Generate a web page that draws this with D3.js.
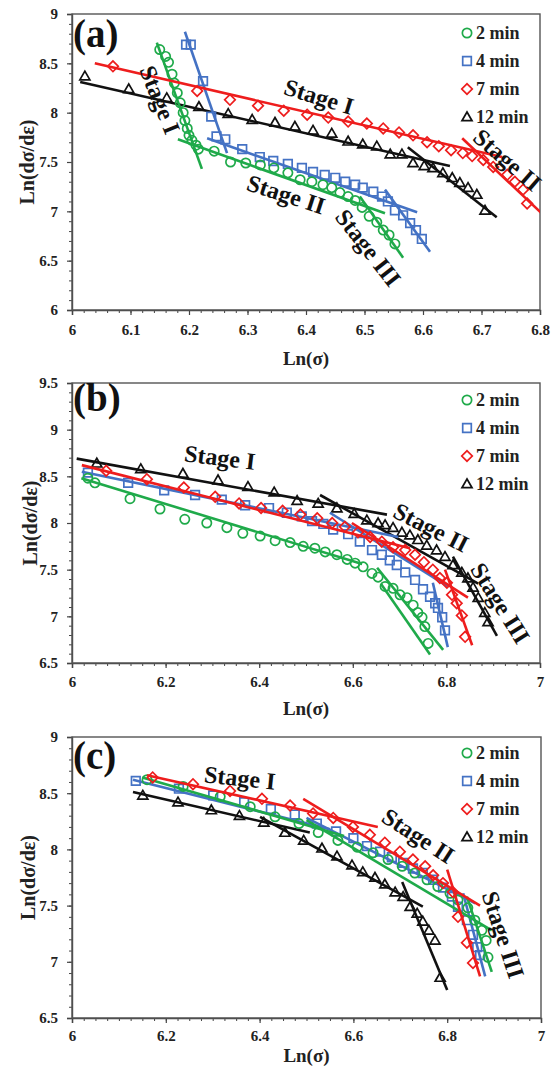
<!DOCTYPE html>
<html><head><meta charset="utf-8">
<script src="https://cdn.jsdelivr.net/npm/d3@7"></script>
<style>body{margin:0;background:#fff}</style>
</head><body>
<svg id="chart" width="557" height="1075"></svg>
<script>
// ---------- categories ----------
const seriesNames = ["2 min", "4 min", "7 min", "12 min"];
const seriesColors = ["#1faa4a", "#4472c4", "#ee1d1d", "#111111"];
const seriesShapes = ["circle", "square", "diamond", "triangle"];

// ---------- tick labels ----------
const xTicksA = [6, 6.1, 6.2, 6.3, 6.4, 6.5, 6.6, 6.7, 6.8];
const yTicksA = [6, 6.5, 7, 7.5, 8, 8.5, 9];
const xTicksB = [6, 6.2, 6.4, 6.6, 6.8, 7];
const yTicksB = [6.5, 7, 7.5, 8, 8.5, 9, 9.5];
const xTicksC = [6, 6.2, 6.4, 6.6, 6.8, 7];
const yTicksC = [6.5, 7, 7.5, 8, 8.5, 9];

// ---------- panel (a) data [Ln(sigma), Ln(dsigma/deps)] ----------
const a2min = [[6.150,8.64],[6.160,8.57],[6.165,8.51],[6.171,8.39],[6.175,8.30],[6.180,8.20],[6.185,8.10],[6.190,8.00],[6.193,7.92],[6.197,7.84],[6.200,7.77],[6.205,7.72],[6.212,7.67],[6.216,7.63],[6.243,7.61],[6.271,7.50],[6.297,7.49],[6.322,7.47],[6.345,7.44],[6.369,7.39],[6.390,7.32],[6.410,7.30],[6.429,7.27],[6.444,7.24],[6.458,7.19],[6.472,7.15],[6.484,7.11],[6.496,7.04],[6.508,6.95],[6.521,6.89],[6.532,6.81],[6.542,6.76],[6.552,6.67]];
const a4min = [[6.195,8.69],[6.203,8.69],[6.224,8.32],[6.238,7.96],[6.247,7.76],[6.262,7.73],[6.291,7.63],[6.321,7.55],[6.344,7.51],[6.369,7.48],[6.393,7.44],[6.412,7.40],[6.432,7.37],[6.450,7.34],[6.467,7.30],[6.484,7.27],[6.497,7.24],[6.515,7.20],[6.530,7.15],[6.540,7.10],[6.552,7.01],[6.566,6.96],[6.578,6.88],[6.588,6.81],[6.598,6.72]];
const a7min = [[6.070,8.47],[6.214,8.22],[6.270,8.13],[6.318,8.07],[6.362,8.02],[6.402,7.98],[6.438,7.95],[6.472,7.91],[6.504,7.89],[6.532,7.84],[6.559,7.80],[6.583,7.77],[6.607,7.70],[6.627,7.66],[6.648,7.62],[6.668,7.59],[6.684,7.56],[6.703,7.52],[6.720,7.45],[6.744,7.37],[6.757,7.30],[6.771,7.22],[6.778,7.08]];
const a12min = [[6.022,8.37],[6.097,8.24],[6.162,8.15],[6.217,8.06],[6.267,7.99],[6.308,7.93],[6.347,7.90],[6.381,7.86],[6.412,7.82],[6.444,7.79],[6.472,7.71],[6.497,7.68],[6.521,7.66],[6.544,7.58],[6.564,7.58],[6.583,7.49],[6.602,7.46],[6.617,7.44],[6.634,7.39],[6.650,7.34],[6.663,7.29],[6.677,7.24],[6.692,7.17],[6.706,7.01]];
const aFit2min = [[[6.145,8.71],[6.222,7.43]], [[6.181,7.73],[6.535,6.98]], [[6.492,7.15],[6.566,6.53]]];
const aFit4min = [[[6.193,8.82],[6.265,7.59]], [[6.231,7.74],[6.590,6.99]], [[6.535,7.22],[6.612,6.59]]];
const aFit7min = [[[6.039,8.50],[6.735,7.55]], [[6.667,7.74],[6.810,6.94]]];
const aFit12min = [[[6.014,8.31],[6.646,7.46]], [[6.574,7.65],[6.726,6.94]]];

// ---------- panel (b) data ----------
const b2min = [[6.034,8.48],[6.049,8.43],[6.124,8.26],[6.188,8.15],[6.241,8.04],[6.288,8.00],[6.331,7.95],[6.365,7.89],[6.402,7.86],[6.434,7.81],[6.466,7.79],[6.494,7.75],[6.519,7.73],[6.541,7.69],[6.566,7.66],[6.588,7.61],[6.605,7.57],[6.622,7.53],[6.641,7.46],[6.654,7.42],[6.669,7.32],[6.686,7.30],[6.701,7.23],[6.716,7.20],[6.729,7.12],[6.739,7.04],[6.748,6.99],[6.754,6.89],[6.761,6.71]];
const b4min = [[6.034,8.54],[6.120,8.43],[6.197,8.35],[6.263,8.30],[6.320,8.25],[6.370,8.19],[6.421,8.16],[6.459,8.11],[6.491,8.07],[6.513,8.02],[6.537,7.99],[6.558,7.93],[6.590,7.88],[6.615,7.80],[6.641,7.71],[6.662,7.66],[6.679,7.60],[6.694,7.55],[6.712,7.47],[6.733,7.39],[6.750,7.29],[6.765,7.21],[6.776,7.14],[6.782,7.09],[6.791,6.99],[6.797,6.85]];
const b7min = [[6.073,8.56],[6.160,8.47],[6.239,8.38],[6.306,8.28],[6.357,8.21],[6.404,8.16],[6.450,8.13],[6.488,8.09],[6.524,8.05],[6.556,8.00],[6.583,7.96],[6.611,7.90],[6.637,7.85],[6.662,7.80],[6.686,7.74],[6.712,7.71],[6.733,7.66],[6.752,7.58],[6.771,7.50],[6.786,7.41],[6.801,7.36],[6.812,7.23],[6.822,7.14],[6.833,7.01],[6.840,6.78]];
const b12min = [[6.053,8.64],[6.147,8.58],[6.237,8.53],[6.312,8.46],[6.376,8.39],[6.432,8.33],[6.481,8.24],[6.526,8.21],[6.566,8.16],[6.603,8.10],[6.630,8.03],[6.654,8.00],[6.669,7.98],[6.686,7.95],[6.705,7.90],[6.722,7.87],[6.739,7.82],[6.758,7.76],[6.779,7.71],[6.797,7.64],[6.814,7.55],[6.833,7.47],[6.846,7.41],[6.857,7.31],[6.868,7.20],[6.882,7.04],[6.889,6.94]];
const bFit2min = [[[6.020,8.48],[6.620,7.56]], [[6.652,7.52],[6.793,6.64]], [[6.660,7.35],[6.765,6.59]]];
const bFit4min = [[[6.021,8.55],[6.697,7.85]], [[6.551,8.11],[6.803,7.32]], [[6.771,7.36],[6.803,6.67]]];
const bFit7min = [[[6.021,8.62],[6.722,7.73]], [[6.598,8.00],[6.846,7.20]], [[6.797,7.50],[6.855,6.69]]];
const bFit12min = [[[6.010,8.69],[6.673,8.09]], [[6.530,8.30],[6.868,7.35]], [[6.814,7.64],[6.908,6.79]]];

// ---------- panel (c) data ----------
const c2min = [[6.160,8.62],[6.237,8.56],[6.316,8.47],[6.380,8.38],[6.433,8.29],[6.484,8.23],[6.525,8.15],[6.567,8.08],[6.608,8.02],[6.642,7.97],[6.674,7.91],[6.704,7.85],[6.731,7.79],[6.757,7.73],[6.780,7.67],[6.806,7.61],[6.823,7.55],[6.844,7.48],[6.859,7.37],[6.874,7.28],[6.883,7.19],[6.887,7.04]];
const c4min = [[6.136,8.61],[6.228,8.54],[6.301,8.48],[6.367,8.42],[6.424,8.36],[6.475,8.31],[6.522,8.23],[6.563,8.16],[6.600,8.10],[6.629,8.03],[6.657,7.98],[6.682,7.93],[6.706,7.88],[6.727,7.83],[6.748,7.79],[6.770,7.73],[6.791,7.66],[6.810,7.58],[6.823,7.49],[6.842,7.37],[6.855,7.24],[6.864,7.13],[6.870,7.06]];
const c7min = [[6.172,8.64],[6.258,8.58],[6.337,8.52],[6.405,8.45],[6.465,8.39],[6.514,8.32],[6.557,8.28],[6.599,8.20],[6.635,8.13],[6.667,8.06],[6.699,7.98],[6.727,7.91],[6.753,7.85],[6.770,7.77],[6.791,7.70],[6.812,7.62],[6.823,7.40],[6.842,7.17],[6.855,6.99]];
const c12min = [[6.151,8.48],[6.226,8.42],[6.297,8.35],[6.357,8.30],[6.409,8.24],[6.454,8.15],[6.494,8.08],[6.533,8.01],[6.565,7.94],[6.597,7.86],[6.620,7.80],[6.646,7.75],[6.667,7.69],[6.689,7.62],[6.706,7.58],[6.721,7.49],[6.736,7.43],[6.748,7.36],[6.761,7.28],[6.774,7.19],[6.785,6.86]];
const cFit2min = [[[6.150,8.64],[6.580,8.12]], [[6.500,8.26],[6.895,7.28]], [[6.842,7.58],[6.895,6.91]]];
const cFit4min = [[[6.130,8.62],[6.550,8.18]], [[6.500,8.28],[6.860,7.52]], [[6.834,7.61],[6.881,6.87]]];
const cFit7min = [[[6.160,8.66],[6.652,8.20]], [[6.493,8.45],[6.870,7.50]], [[6.800,7.82],[6.870,6.87]]];
const cFit12min = [[[6.130,8.51],[6.507,8.15]], [[6.401,8.29],[6.748,7.49]], [[6.704,7.71],[6.800,6.75]]];

// ---------- stage annotations [text, Ln(sigma), Ln(dsigma/deps), angle] ----------
const stagesA = [["Stage I",6.150,8.13,68],["Stage I",6.422,8.16,17],["Stage II",6.366,7.17,18],["Stage III",6.506,6.63,52],["Stage II",6.744,7.52,41]];
const stagesB = [["Stage I",6.316,8.70,7],["Stage II",6.767,7.95,27],["Stage III",6.915,7.14,58]];
const stagesC = [["Stage I",6.358,8.635,6],["Stage II",6.738,8.12,33],["Stage III",6.919,7.24,72]];

// ---------- layout ----------
const panels = [
  {label:"(a)", left:72, right:540, top:14, bottom:310, xd:[6,6.8], yd:[6,9], xTicks:xTicksA, yTicks:yTicksA, xMinor:0.02, yMinor:0.1,
   data:[a2min,a4min,a7min,a12min], fits:[aFit2min,aFit4min,aFit7min,aFit12min], stages:stagesA, legendY:33, xTitleY:358, yTitleX:27, labelY:47, xPad:9},
  {label:"(b)", left:72, right:540, top:383, bottom:663, xd:[6,7], yd:[6.5,9.5], xTicks:xTicksB, yTicks:yTicksB, xMinor:0.025, yMinor:0.1,
   data:[b2min,b4min,b7min,b12min], fits:[bFit2min,bFit4min,bFit7min,bFit12min], stages:stagesB, legendY:400, xTitleY:708, yTitleX:30, labelY:411, xPad:8},
  {label:"(c)", left:72, right:541, top:737, bottom:1018, xd:[6,7], yd:[6.5,9], xTicks:xTicksC, yTicks:yTicksC, xMinor:0.025, yMinor:0.1,
   data:[c2min,c4min,c7min,c12min], fits:[cFit2min,cFit4min,cFit7min,cFit12min], stages:stagesC, legendY:753, xTitleY:1055, yTitleX:28, labelY:769, xPad:7}
];

const svg = d3.select("#chart");
const FONT = "'Liberation Serif','Times New Roman',serif";
const drawOrder = [3, 1, 0, 2];

function symbolPath(shape) {
  if (shape === "circle") return d3.symbol(d3.symbolCircle, 68)();
  if (shape === "square") return d3.symbol(d3.symbolSquare, 74)();
  if (shape === "diamond") return d3.symbol(d3.symbolSquare, 56)();
  return d3.symbol(d3.symbolTriangle, 44)();
}
function symbolTransform(shape, px, py) {
  return `translate(${px},${py})` + (shape === "diamond" ? " rotate(45)" : "") + (shape === "triangle" ? " translate(0,0.8)" : "");
}

panels.forEach((p, pi) => {
  const x = d3.scaleLinear().domain(p.xd).range([p.left, p.right]);
  const y = d3.scaleLinear().domain(p.yd).range([p.bottom, p.top]);
  const g = svg.append("g");
  const clipId = "clip" + pi;
  svg.append("defs").append("clipPath").attr("id", clipId)
    .append("rect").attr("x", p.left).attr("y", p.top).attr("width", p.right - p.left).attr("height", p.bottom - p.top);

  // minor ticks
  const xm = d3.range(p.xd[0], p.xd[1] + 1e-9, p.xMinor);
  const ym = d3.range(p.yd[0], p.yd[1] + 1e-9, p.yMinor);
  g.append("g").attr("transform", `translate(0,${p.bottom})`)
    .call(d3.axisBottom(x).tickValues(xm).tickSize(3).tickFormat(""))
    .call(s => s.select(".domain").remove())
    .call(s => s.selectAll("line").attr("stroke", "#444").attr("stroke-width", 1));
  g.append("g").attr("transform", `translate(${p.left},0)`)
    .call(d3.axisLeft(y).tickValues(ym).tickSize(3).tickFormat(""))
    .call(s => s.select(".domain").remove())
    .call(s => s.selectAll("line").attr("stroke", "#444").attr("stroke-width", 1));

  // major axes
  const xa = g.append("g").attr("transform", `translate(0,${p.bottom})`)
    .call(d3.axisBottom(x).tickValues(p.xTicks).tickSize(5).tickPadding(p.xPad).tickFormat(d => String(d)));
  const ya = g.append("g").attr("transform", `translate(${p.left},0)`)
    .call(d3.axisLeft(y).tickValues(p.yTicks).tickSize(5).tickPadding(9).tickFormat(d => String(d)));
  [xa, ya].forEach(a => {
    a.selectAll("text").attr("font-family", FONT).attr("font-weight", "bold").attr("font-size", 15).attr("fill", "#222");
    a.selectAll("line").attr("stroke", "#444").attr("stroke-width", 1.2);
    a.select(".domain").attr("stroke", "#444").attr("stroke-width", 1.4);
  });

  // frame
  g.append("rect").attr("x", p.left).attr("y", p.top).attr("width", p.right - p.left).attr("height", p.bottom - p.top)
    .attr("fill", "none").attr("stroke", "#555").attr("stroke-width", 1.4);

  // axis titles
  g.append("text").attr("x", (p.left + p.right) / 2).attr("y", p.xTitleY).attr("text-anchor", "middle")
    .attr("dominant-baseline", "central").attr("font-family", FONT).attr("font-weight", "bold").attr("font-size", 19)
    .attr("fill", "#222").text("Ln(σ)");
  g.append("text").attr("transform", `translate(${p.yTitleX},${(p.top + p.bottom) / 2}) rotate(-90)`)
    .attr("text-anchor", "middle").attr("dominant-baseline", "central").attr("font-family", FONT)
    .attr("font-weight", "bold").attr("font-size", 20).attr("fill", "#222").text("Ln(dσ/dε)");

  // panel label
  g.append("text").attr("x", p.left + 1).attr("y", p.labelY).attr("font-family", FONT).attr("font-weight", "bold")
    .attr("font-size", 39).attr("fill", "#111").text(p.label);

  // series
  const plot = g.append("g").attr("clip-path", `url(#${clipId})`);
  drawOrder.forEach(si => {
    const col = seriesColors[si];
    plot.append("g").selectAll("line").data(p.fits[si]).join("line")
      .attr("x1", d => x(d[0][0])).attr("y1", d => y(d[0][1]))
      .attr("x2", d => x(d[1][0])).attr("y2", d => y(d[1][1]))
      .attr("stroke", col).attr("stroke-width", 2.6).attr("stroke-linecap", "butt");
    plot.append("g").selectAll("path").data(p.data[si]).join("path")
      .attr("d", symbolPath(seriesShapes[si]))
      .attr("transform", d => symbolTransform(seriesShapes[si], x(d[0]), y(d[1])))
      .attr("fill", "none").attr("stroke", col).attr("stroke-width", 1.7);
  });

  // stage labels
  g.append("g").selectAll("text").data(p.stages).join("text")
    .attr("transform", d => `translate(${x(d[1])},${y(d[2])}) rotate(${d[3]})`)
    .attr("text-anchor", "middle").attr("dominant-baseline", "central")
    .attr("font-family", FONT).attr("font-weight", "bold").attr("font-size", 24).attr("fill", "#111")
    .text(d => d[0]);

  // legend
  const lg = g.append("g");
  seriesNames.forEach((name, si) => {
    const ly = p.legendY + si * 28;
    lg.append("path").attr("d", symbolPath(seriesShapes[si]))
      .attr("transform", symbolTransform(seriesShapes[si], 467, ly))
      .attr("fill", "none").attr("stroke", seriesColors[si]).attr("stroke-width", 1.7);
    lg.append("text").attr("x", 476).attr("y", ly).attr("dominant-baseline", "central")
      .attr("font-family", FONT).attr("font-weight", "bold").attr("font-size", 18).attr("fill", "#222").text(name);
  });
});
</script>
</body></html>
